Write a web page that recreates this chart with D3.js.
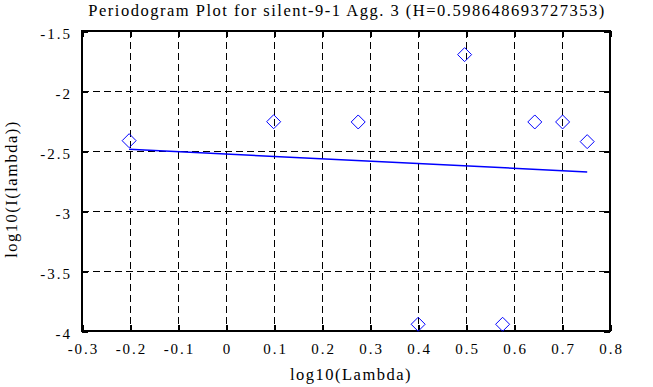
<!DOCTYPE html>
<html>
<head>
<meta charset="utf-8">
<script src="https://cdn.jsdelivr.net/npm/d3@7"></script>
<style>
  body { margin: 0; background: #fff; }
</style>
</head>
<body>
<script>
// periodogram points, log10 values
const lambdaLog = [-0.2018, 0.0993, 0.2754, 0.4003, 0.4971, 0.5763, 0.6433, 0.7013, 0.7525];
const periodLog = [-2.414, -2.256, -2.258, -3.944, -1.697, -3.944, -2.258, -2.258, -2.422];

// least squares line (slope = 1 - 2H)
const fitX = [-0.2018, 0.7525];
const fitY = [-2.486, -2.674];

const xTicks = [-0.3, -0.2, -0.1, 0, 0.1, 0.2, 0.3, 0.4, 0.5, 0.6, 0.7, 0.8];
const yTicks = [-4, -3.5, -3, -2.5, -2, -1.5];

const title = "Periodogram Plot for silent-9-1 Agg. 3 (H=0.598648693727353)";

const width = 653, height = 387;
const margin = {top: 31, right: 43, bottom: 56, left: 82};
const serif = '"Liberation Serif", "Times New Roman", serif';

const svg = d3.select("body").append("svg")
  .attr("width", width)
  .attr("height", height);

const x = d3.scaleLinear().domain([-0.3, 0.8]).range([margin.left, width - margin.right]);
const y = d3.scaleLinear().domain([-4, -1.5]).range([height - margin.bottom, margin.top]);

const fmt = d => String(+d.toFixed(1));

// grid
svg.append("g")
  .attr("shape-rendering", "crispEdges")
  .selectAll("line")
  .data(xTicks.slice(1, -1))
  .join("line")
  .attr("x1", d => x(d)).attr("x2", d => x(d))
  .attr("y1", y(-1.5)).attr("y2", y(-4))
  .attr("stroke", "#000")
  .attr("stroke-dasharray", "7,4");

svg.append("g")
  .attr("shape-rendering", "crispEdges")
  .selectAll("line")
  .data(yTicks.slice(1, -1))
  .join("line")
  .attr("x1", x(-0.3)).attr("x2", x(0.8))
  .attr("y1", d => y(d)).attr("y2", d => y(d))
  .attr("stroke", "#000")
  .attr("stroke-dasharray", "7,4");

// axes with inward ticks
function styleAxis(g) {
  g.select(".domain").remove();
  g.selectAll(".tick line").attr("stroke", "#000").attr("stroke-width", 2)
    .attr("shape-rendering", "crispEdges");
  g.selectAll("text")
    .style("font-family", serif)
    .style("font-size", "15px")
    .style("letter-spacing", "2px")
    .attr("fill", "#000");
}

svg.append("g")
  .attr("transform", `translate(0,${y(-4)})`)
  .call(d3.axisBottom(x).tickValues(xTicks).tickFormat(fmt).tickSizeInner(-6).tickSizeOuter(0).tickPadding(12))
  .call(styleAxis)
  .selectAll("text").attr("dx", "1px");

svg.append("g")
  .attr("transform", `translate(0,${y(-1.5)})`)
  .call(d3.axisTop(x).tickValues(xTicks).tickFormat("").tickSizeInner(-6).tickSizeOuter(0))
  .call(styleAxis);

svg.append("g")
  .attr("transform", `translate(${x(-0.3)},0)`)
  .call(d3.axisLeft(y).tickValues(yTicks).tickFormat(fmt).tickSizeInner(-6).tickSizeOuter(0).tickPadding(10))
  .call(styleAxis)
  .selectAll("text").attr("dy", "0.5em");

svg.append("g")
  .attr("transform", `translate(${x(0.8)},0)`)
  .call(d3.axisRight(y).tickValues(yTicks).tickFormat("").tickSizeInner(-6).tickSizeOuter(0))
  .call(styleAxis);

// frame
svg.append("rect")
  .attr("x", x(-0.3)).attr("y", y(-1.5))
  .attr("width", x(0.8) - x(-0.3))
  .attr("height", y(-4) - y(-1.5))
  .attr("fill", "none")
  .attr("stroke", "#000")
  .attr("stroke-width", 2)
  .attr("shape-rendering", "crispEdges");

// fitted line
svg.append("line")
  .attr("x1", x(fitX[0])).attr("y1", y(fitY[0]))
  .attr("x2", x(fitX[1])).attr("y2", y(fitY[1]))
  .attr("stroke", "#0000ff")
  .attr("stroke-width", 1.5);

// diamonds
const pts = lambdaLog.map((v, i) => [v, periodLog[i]]);
svg.append("g")
  .selectAll("path")
  .data(pts)
  .join("path")
  .attr("d", d => {
    const cx = x(d[0]), cy = y(d[1]), r = 7;
    return `M${cx},${cy - r}L${cx + r},${cy}L${cx},${cy + r}L${cx - r},${cy}Z`;
  })
  .attr("fill", "none")
  .attr("stroke", "#0000ff")
  .attr("stroke-width", 1);

// title and labels
function label(sel) {
  sel.attr("text-anchor", "middle")
    .style("font-family", serif)
    .style("font-size", "16.5px")
    .style("letter-spacing", "1.5px")
    .attr("fill", "#000");
}

svg.append("text")
  .attr("x", (x(-0.3) + x(0.8)) / 2 + 1)
  .attr("y", 16)
  .call(label)
  .text(title);

svg.append("text")
  .attr("x", (x(-0.3) + x(0.8)) / 2 + 5)
  .attr("y", 380)
  .call(label)
  .text("log10(Lambda)");

svg.append("text")
  .attr("transform", `translate(17,${(y(-1.5) + y(-4)) / 2 + 8}) rotate(-90)`)
  .call(label)
  .text("log10(I(lambda))");
</script>
</body>
</html>
